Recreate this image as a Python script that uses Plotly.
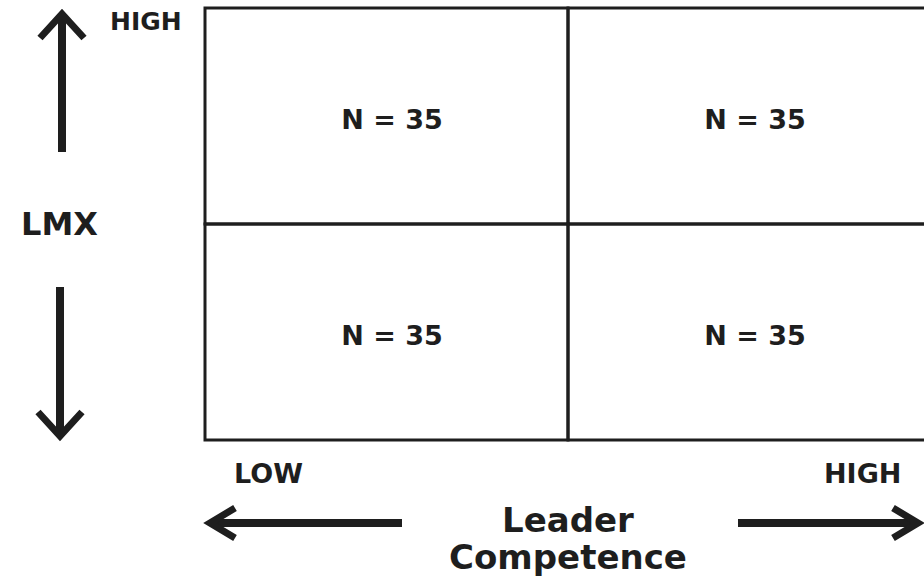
import plotly.graph_objects as go

# Data: 2x2 quadrant design (Leader Competence x LMX)
competence_levels = ["LOW", "HIGH"]
lmx_levels = ["LOW", "HIGH"]
cell_col = [0, 1, 0, 1]      # competence index
cell_row = [1, 1, 0, 0]      # LMX index (1 = high)
cell_n = [35, 35, 35, 35]

FONT = "DejaVu Sans"
INK = "#1e1e1e"

fig = go.Figure()

# grid cells
for c, r, n in zip(cell_col, cell_row, cell_n):
    fig.add_shape(type="rect", x0=c, x1=c + 1, y0=r, y1=r + 1,
                  line=dict(color=INK, width=3), fillcolor="rgba(0,0,0,0)", layer="above")

# cell labels
fig.add_trace(go.Scatter(
    x=[c + 0.515 for c in cell_col], y=[r + 0.47 for r in cell_row],
    mode="text", text=[f"N = {n}" for n in cell_n],
    textfont=dict(family=FONT, size=27, color=INK, weight="bold"),
    hoverinfo="skip", showlegend=False))

fig.update_xaxes(range=[-205 / 363, (924 - 205) / 363], visible=False, fixedrange=True)
fig.update_yaxes(range=[-140 / 216, 2 + 8 / 216], visible=False, fixedrange=True)

def px(x):
    return x / 924
def py(y):
    return 1 - y / 580

def label(text, x, y, size):
    fig.add_annotation(text=text, x=px(x), y=py(y), xref="paper", yref="paper",
                       showarrow=False, xanchor="center", yanchor="middle",
                       font=dict(family=FONT, size=size, color=INK, weight="bold"))

label(lmx_levels[1], 146, 22, 25)
label("LMX", 60, 224, 32)
label(competence_levels[0], 268, 473, 27)
label(competence_levels[1], 862, 473, 27)
label("Leader", 568, 520, 34)
label("Competence", 568, 557, 34)

def path(points, width=8):
    d = "M " + " L ".join(f"{px(x):.5f},{py(y):.5f}" for x, y in points)
    fig.add_shape(type="path", path=d, xref="paper", yref="paper",
                  line=dict(color=INK, width=width))

# up arrow
path([(62, 152), (62, 16)])
path([(40, 38), (62, 14), (84, 38)], 7)
# down arrow
path([(60, 287), (60, 432)])
path([(38, 412), (60, 436), (82, 412)], 7)
# left arrow
path([(402, 523), (212, 523)])
path([(235, 508), (210, 523), (235, 538)], 7)
# right arrow
path([(738, 523), (916, 523)])
path([(893, 508), (918, 523), (893, 538)], 7)

fig.update_layout(width=924, height=580, margin=dict(l=0, r=0, t=0, b=0),
                  paper_bgcolor="white", plot_bgcolor="white")

fig.write_html("out.html", config={"displayModeBar": False},
               post_script="document.body.style.margin='0';")
